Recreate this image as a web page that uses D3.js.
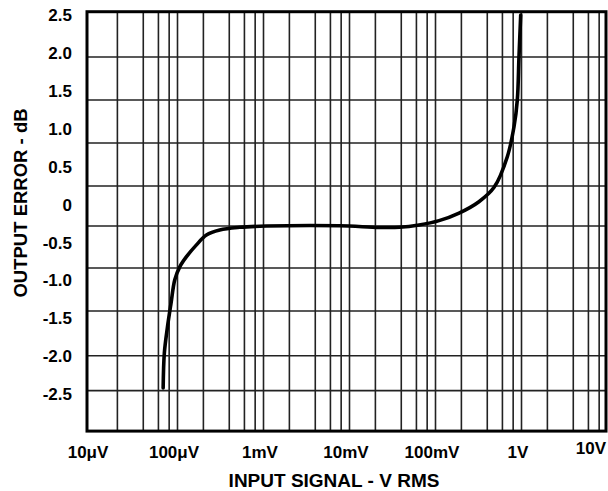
<!DOCTYPE html>
<html><head><meta charset="utf-8">
<script src="https://cdn.jsdelivr.net/npm/d3@7"></script>
<style>body{margin:0;background:#fff}svg{display:block}text{font-family:"Liberation Sans",Arial,sans-serif;font-weight:bold;fill:#000}</style>
</head><body>
<script>
// input level (V rms) and output error (dB)
const inputV = [68.1e-6, 70.3e-6, 76.1e-6, 84.1e-6, 93e-6, 106.3e-6, 127.2e-6, 166.1e-6, 217e-6, 309.6e-6, 528e-6, 1.078e-3, 7.63e-3, 22.2e-3, 38.1e-3, 64.5e-3, 0.110, 0.188, 0.32, 0.48, 0.684, 0.818, 0.894, 0.935, 0.979];
const errorDb = [-2.42, -1.96, -1.63, -1.30, -0.99, -0.82, -0.686, -0.53, -0.40, -0.333, -0.298, -0.281, -0.277, -0.30, -0.298, -0.267, -0.21, -0.11, 0.04, 0.23, 0.635, 1.03, 1.384, 1.956, 2.507];
const yTickValues = [2.5, 2.0, 1.5, 1.0, 0.5, 0, -0.5, -1.0, -1.5, -2.0, -2.5];
const yTickLabels = ["2.5", "2.0", "1.5", "1.0", "0.5", "0", "-0.5", "-1.0", "-1.5", "-2.0", "-2.5"];
const hGridDb = [1.952, 1.384, 0.816, 0.248, -0.280, -0.835, -1.403, -1.994, -2.456];
const xTickValues = [1e-5, 1e-4, 1e-3, 1e-2, 1e-1, 1, 10];
const xTickLabels = ["10\u03bcV", "100\u03bcV", "1mV", "10mV", "100mV", "1V", "10V"];
const gridMultiples = [2, 4, 6, 8, 10];
const decades = [1e-5, 1e-4, 1e-3, 1e-2, 1e-1, 1];
const yTop = 2.55, yBottom = -2.99;

const W = 608, H = 491;
const frame = {left: 87, right: 606};
const svg = d3.select("body").append("svg").attr("width", W).attr("height", H);
const x = d3.scaleLog().domain([1e-5, 10]).range([91.5, 607.5]);
const y = d3.scaleLinear().domain([2.5, -2.5]).range([15.5, 394]);
const plotTop = y(yTop), plotBottom = y(yBottom);

// vertical grid
const vGrid = [];
decades.forEach(d => gridMultiples.forEach(m => { const v = d * m; if (x(v) > frame.left + 3 && x(v) < frame.right - 3) vGrid.push(v); }));
svg.append("g").selectAll("line").data(vGrid).join("line")
  .attr("x1", d => x(d)).attr("x2", d => x(d)).attr("y1", plotTop).attr("y2", plotBottom)
  .attr("stroke", "#222").attr("stroke-width", 1.6);
// horizontal grid
svg.append("g").selectAll("line").data(hGridDb).join("line")
  .attr("x1", frame.left).attr("x2", frame.right).attr("y1", d => y(d)).attr("y2", d => y(d))
  .attr("stroke", "#222").attr("stroke-width", 1.6);

// frame
svg.append("rect").attr("x", frame.left).attr("y", plotTop).attr("width", frame.right - frame.left).attr("height", plotBottom - plotTop)
  .attr("fill", "none").attr("stroke", "#000").attr("stroke-width", 3);

// curve
svg.append("path").datum(errorDb).attr("d", d3.line().x((d, i) => x(inputV[i])).y(d => y(d)).curve(d3.curveCatmullRom.alpha(0.5)))
  .attr("fill", "none").attr("stroke", "#000").attr("stroke-width", 3.6).attr("stroke-linejoin", "round").attr("stroke-linecap", "round");

// y tick labels
svg.append("g").selectAll("text").data(yTickValues).join("text")
  .attr("x", 72).attr("y", d => y(d)).attr("dy", "0.35em").attr("text-anchor", "end")
  .style("font-size", "17px").text((d, i) => yTickLabels[i]);
// x tick labels
svg.append("g").selectAll("text").data(xTickValues).join("text")
  .attr("x", (d, i) => i === 6 ? 606 : x(d) - 3.5).attr("y", (d, i) => i === 6 ? 448 : 452).attr("dy", "0.35em")
  .attr("text-anchor", (d, i) => i === 6 ? "end" : "middle")
  .style("font-size", "17px").text((d, i) => xTickLabels[i]);

// axis titles
svg.append("text").attr("x", 334).attr("y", 480).attr("dy", "0.35em").attr("text-anchor", "middle")
  .style("font-size", "19px").text("INPUT SIGNAL - V RMS");
svg.append("text").attr("transform", "translate(21,203) rotate(-90)").attr("dy", "0.35em").attr("text-anchor", "middle")
  .style("font-size", "18.5px").text("OUTPUT ERROR - dB");
</script>
</body></html>
